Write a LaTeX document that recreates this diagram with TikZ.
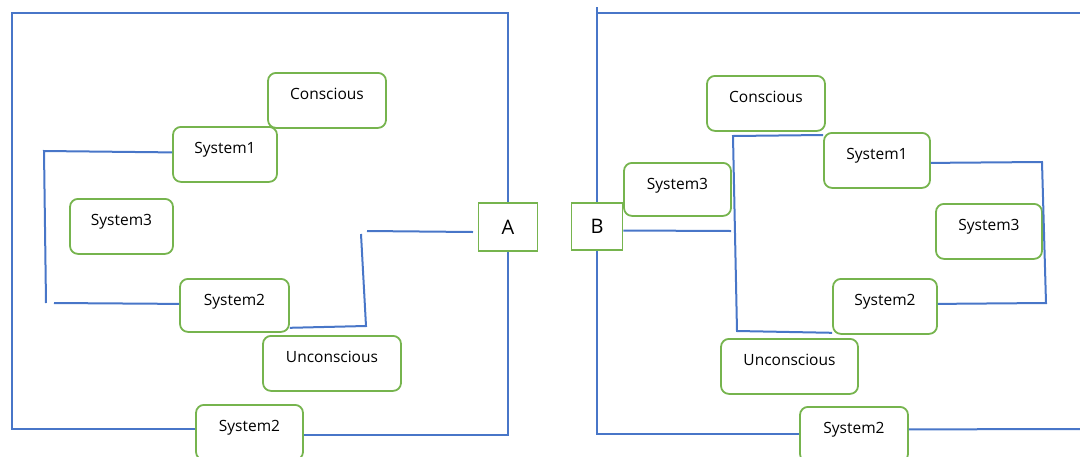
\documentclass[tikz,border=0pt]{standalone}
\usepackage{fontspec}
\newfontfamily\boxfont{Open Sans}
\definecolor{linkblue}{RGB}{72,118,200}
\definecolor{boxgreen}{RGB}{118,180,78}

\begin{document}
\begin{tikzpicture}[x=1pt,y=-1pt,
  sysbox/.style={draw=boxgreen,line width=1.8pt,rounded corners=8pt,inner sep=0pt,anchor=north,
    text height=27pt,text depth=28pt,font=\boxfont\fontsize{15.5}{18}\selectfont},
  letterbox/.style={draw=boxgreen,line width=1.6pt,inner sep=0pt,font=\boxfont\fontsize{20}{24}\selectfont},
  link/.style={draw=linkblue,line width=2pt}]

\useasboundingbox (0,0) rectangle (1080,456);

% left panel
\node[sysbox,minimum width=118pt] (lcon) at (327,72) {Conscious};
\node[sysbox,minimum width=104pt] (lsys1) at (225,126) {System1};
\node[sysbox,minimum width=103pt] (lsys3) at (121.5,198) {System3};
\node[sysbox,minimum width=109pt,text depth=26pt] (lsys2) at (234.5,278) {System2};
\node[sysbox,minimum width=138pt] (lunc) at (332,335) {Unconscious};
\node[sysbox,minimum width=107pt] (lsys2b) at (249.5,404) {System2};
\node[letterbox,minimum width=59pt,minimum height=48pt] (boxA) at (508,227) {A};

\coordinate (lbend) at (44,151);
\coordinate (lend) at (46,303);
\coordinate (lstart) at (54,303);
\coordinate (lcorner) at (366,326);
\coordinate (ltop) at (361,234);
\coordinate (lfrom) at (367,231);
\coordinate (lto) at (473,232);
\coordinate (lframe) at (11.5,13);

\draw[link] ([yshift=2pt]lsys1.west) -- (lbend) -- (lend);
\draw[link] (lstart) -- ([yshift=1.5pt]lsys2.west);
\draw[link] ([yshift=5pt]lsys2.south east) -- (lcorner) -- (ltop);
\draw[link] (lfrom) -- (lto);
\draw[link] (boxA.north) |- (lframe) |- ([yshift=3pt]lsys2b.west);
\draw[link] (boxA.south) |- ([yshift=-3pt]lsys2b.east);

% right panel
\node[sysbox,minimum width=118pt] (rcon) at (766,75) {Conscious};
\node[sysbox,minimum width=106pt] (rsys1) at (877,132) {System1};
\node[sysbox,minimum width=107pt,text depth=26pt] (rsys3a) at (677.5,162) {System3};
\node[sysbox,minimum width=106pt] (rsys3b) at (989,203) {System3};
\node[sysbox,minimum width=104pt] (rsys2) at (885,278) {System2};
\node[sysbox,minimum width=137pt] (runc) at (789.5,338) {Unconscious};
\node[sysbox,minimum width=108pt] (rsys2b) at (854,406) {System2};
\node[letterbox,minimum width=51pt,minimum height=47pt] (boxB) at (597,226.5) {B};

\coordinate (rtop) at (597,7);
\coordinate (rframe) at (597,13);
\coordinate (rframeend) at (1082,13);
\coordinate (rbottomend) at (1082,429);
\coordinate (rjoin) at (731,231);
\coordinate (rup) at (733,136);
\coordinate (rdown) at (737,331);
\coordinate (rright) at (1042,162);
\coordinate (rlow) at (1046,303);

\draw[link] (boxB.north) -- (rtop);
\draw[link] (rframe) -- (rframeend);
\draw[link] (boxB.south) |- (rsys2b.west);
\draw[link] ([yshift=5pt]rsys2b.east) -- (rbottomend);
\draw[link] ([yshift=-4pt]boxB.east) -- (rjoin);
\draw[link] ([yshift=-3pt]rsys1.north west) -- (rup) -- (rdown) -- ([yshift=2pt]rsys2.south west);
\draw[link] ([yshift=-2.5pt]rsys1.east) -- (rright) -- (rlow) -- ([yshift=2.5pt]rsys2.east);

\end{tikzpicture}
\end{document}
